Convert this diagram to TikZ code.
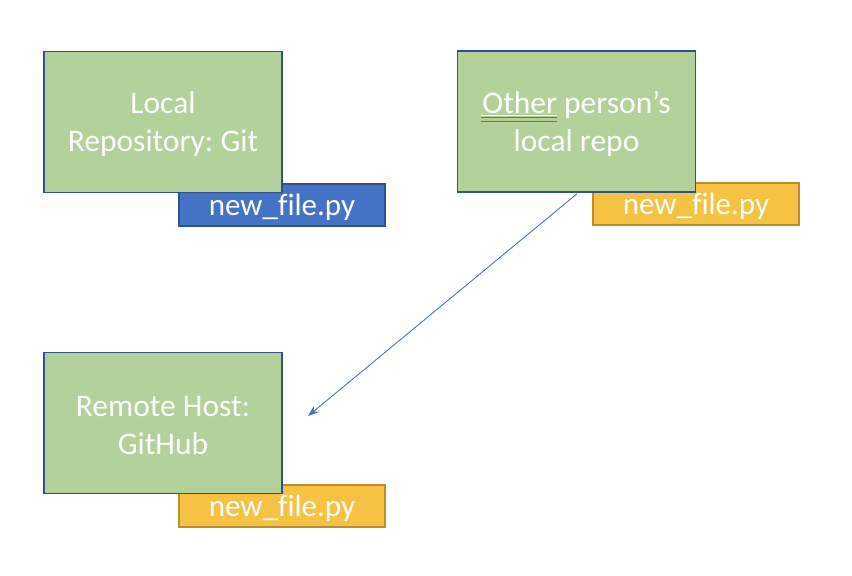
\documentclass[tikz,border=0pt]{standalone}
\usepackage{fontspec}
\setmainfont[Ligatures=NoCommon]{Carlito}
\usetikzlibrary{arrows.meta}
\definecolor{boxgreen}{HTML}{B3D19A}
\definecolor{boxedge}{HTML}{2F528F}
\definecolor{fileblue}{HTML}{4472C4}
\definecolor{fileyellow}{HTML}{F5C243}
\definecolor{yellowedge}{HTML}{BC8E2A}
\definecolor{arrowblue}{HTML}{4472C4}
\tikzset{
  repobox/.style={draw=boxedge, line width=1.5pt, fill=boxgreen, minimum width=238pt, minimum height=141pt, inner sep=0pt},
  repotext/.style={text=white, align=center, font=\frenchspacing\fontsize{31.5}{38}\selectfont, inner sep=0pt},
  filebox/.style={line width=1.5pt, minimum width=206pt, minimum height=42pt, text=white, font=\fontsize{31}{36}\selectfont, inner sep=0pt, text depth=0pt},
  bluefile/.style={filebox, draw=boxedge, fill=fileblue},
  yellowfile/.style={filebox, draw=yellowedge, fill=fileyellow},
}
\begin{document}
\begin{tikzpicture}[x=1pt,y=-1pt]
\useasboundingbox (0,0) rectangle (852,576);
% file boxes (behind)
\node[bluefile] (f1) at (282,205) {new\_file.py};
\node[yellowfile] (f2) at (696,204) {new\_file.py};
\node[yellowfile] (f3) at (282,506) {new\_file.py};
% repo boxes
\node[repobox] (local) at (163,122) {};
\node[repotext] (localtext) at ([yshift=-2.5pt]local.center) {Local\\Repository: Git};
\node[repobox] (other) at (576.5,121.5) {};
\node[repotext] (othertext) at ([yshift=-2.5pt]other.center) {Other person’s\\local repo};
\node[repobox] (remote) at (163,423) {};
\node[repotext] (remotetext) at ([yshift=-2.5pt]remote.center) {Remote Host:\\GitHub};
% underline and spell-check marks under "Other"
\coordinate (u1) at (481,115.5);
\coordinate (u2) at (557,115.5);
\draw[white, line width=1pt] (u1) -- (u2);
\draw[arrowblue, line width=1pt] ([yshift=-2.2pt]u1) -- ([yshift=-2.2pt]u2);
\draw[arrowblue, line width=1pt] ([yshift=-6pt]u1) -- ([yshift=-6pt]u2);
% arrow
\coordinate (tip) at (308,416);
\draw[arrowblue, line width=0.9pt, -{Stealth[length=11pt,width=8pt]}] (other.south) ++(0.5,1) -- (tip);
\end{tikzpicture}
\end{document}
